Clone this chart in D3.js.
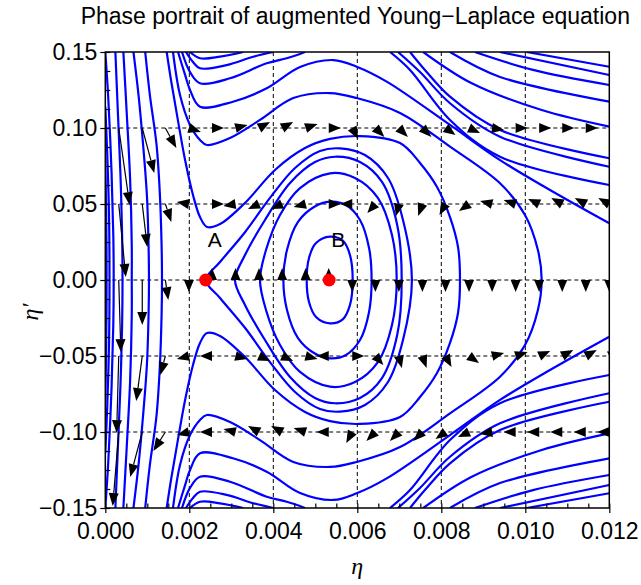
<!DOCTYPE html>
<html lang="en">
<head>
<meta charset="utf-8">
<title>Phase portrait</title>
<script src="https://cdnjs.cloudflare.com/ajax/libs/d3/7.8.5/d3.min.js"></script>
<style>
body { margin: 0; background: #fff; }
svg text { font-family: "Liberation Sans", Arial, sans-serif; fill: #000; }
.grid line { stroke: #000; stroke-width: 1; stroke-dasharray: 4,3; }
.orbit { fill: none; stroke: #0000ff; stroke-width: 2.2; }
.axis path { display: none; }
.axis line { stroke: #000; stroke-width: 1.2; }
</style>
</head>
<body>
<div id="chart"></div>
<script>
// ---- data ----
var titleText = "Phase portrait of augmented Young\u2212Laplace equation";
var xMajor = [0, 0.002, 0.004, 0.006, 0.008, 0.010, 0.012];
var yMajor = [-0.15, -0.10, -0.05, 0, 0.05, 0.10, 0.15];
var xMinor = [0, 0.0005, 0.001, 0.0015, 0.002, 0.0025, 0.003, 0.0035, 0.004, 0.0045, 0.005, 0.0055,
              0.006, 0.0065, 0.007, 0.0075, 0.008, 0.0085, 0.009, 0.0095, 0.010, 0.0105, 0.011, 0.0115, 0.012];
var yMinor = [-0.15, -0.1375, -0.125, -0.1125, -0.10, -0.0875, -0.075, -0.0625, -0.05, -0.0375, -0.025, -0.0125,
              0, 0.0125, 0.025, 0.0375, 0.05, 0.0625, 0.075, 0.0875, 0.10, 0.1125, 0.125, 0.1375, 0.15];

var equilibria = [
  {name: "A", eta: 0.00239, deta: 0},
  {name: "B", eta: 0.00533, deta: 0}
];

// orbits left of the saddle
var leftOrbits = [
  [[0,0.081],[0.000017,0.05],[0.000029,0.02],[0.00003,0],[0.000029,-0.02],[0.000017,-0.05],[0,-0.081]],
  [[0,0.114],[0.00005,0.08],[0.00009,0.04],[0.0001,0],[0.00009,-0.04],[0.00005,-0.08],[0,-0.114]],
  [[0,0.15],[0.00007,0.12],[0.00015,0.07],[0.00019,0.03],[0.0002,0],[0.00019,-0.03],[0.00015,-0.07],[0.00007,-0.12],[0,-0.15]],
  [[0.00024,0.15],[0.0003,0.11],[0.00036,0.07],[0.0004,0.03],[0.00041,0],[0.0004,-0.03],[0.00036,-0.07],[0.0003,-0.11],[0.00024,-0.15]],
  [[0.00043,0.15],[0.00051,0.11],[0.00059,0.067],[0.00063,0.023],[0.00063,0],[0.00063,-0.023],[0.00059,-0.067],[0.00051,-0.11],[0.00043,-0.15]],
  [[0.00067,0.15],[0.00079,0.122],[0.0009,0.089],[0.00099,0.056],[0.00103,0.023],[0.00104,0],[0.00103,-0.023],[0.00099,-0.056],[0.0009,-0.089],[0.00079,-0.122],[0.00067,-0.15]],
  [[0.00095,0.15],[0.00106,0.122],[0.00122,0.089],[0.0013,0.056],[0.00134,0.023],[0.00135,0],[0.00134,-0.023],[0.0013,-0.056],[0.00122,-0.089],[0.00106,-0.122],[0.00095,-0.15]]
];

// closed orbits round the centre B
var loops = [
  [[0.004795,0],[0.00485,0.0145],[0.005017,0.0243],[0.00535,0.0285],[0.00566,0.0257],[0.005826,0.0164],[0.00589,0],
   [0.005826,-0.0164],[0.00566,-0.0257],[0.00535,-0.0285],[0.005017,-0.0243],[0.00485,-0.0145]],
  [[0.00424,0],[0.004326,0.0197],[0.004588,0.0382],[0.004969,0.048],[0.00535,0.0515],[0.00573,0.0493],[0.006064,0.0395],[0.00628,0.021],[0.00634,0],
   [0.00628,-0.021],[0.006064,-0.0395],[0.00573,-0.0493],[0.00535,-0.0515],[0.004969,-0.048],[0.004588,-0.0382],[0.004326,-0.0197]],
  [[0.003683,0],[0.003826,0.0197],[0.00416,0.0428],[0.004636,0.0605],[0.00535,0.0702],[0.005945,0.0671],[0.00649,0.054],[0.006826,0.0296],[0.006938,0],
   [0.006826,-0.0296],[0.00649,-0.054],[0.005945,-0.0671],[0.00535,-0.0702],[0.004636,-0.0605],[0.00416,-0.0428],[0.003826,-0.0197]],
  [[0.003088,0],[0.003326,0.0164],[0.003802,0.0395],[0.004398,0.0638],[0.004993,0.0776],[0.005469,0.0811],[0.006064,0.0776],[0.006588,0.0645],[0.00695,0.0362],[0.007057,0],
   [0.00695,-0.0362],[0.006588,-0.0645],[0.006064,-0.0776],[0.005469,-0.0811],[0.004993,-0.0776],[0.004398,-0.0638],[0.003802,-0.0395],[0.003326,-0.0164]],
  [[0.00239,0],[0.002731,0.0118],[0.00333,0.0316],[0.003921,0.054],[0.004517,0.0737],[0.005112,0.0849],[0.005588,0.0866],[0.006183,0.0822],[0.006731,0.0671],[0.007088,0.0395],[0.0073,0],
   [0.007088,-0.0395],[0.006731,-0.0671],[0.006183,-0.0822],[0.005588,-0.0866],[0.005112,-0.0849],[0.004517,-0.0737],[0.00392,-0.054],[0.00333,-0.0316],[0.002731,-0.0118]]
];

// orbits passing over the saddle
var passingOrbits = [
  [[0.001462,0.15],[0.001564,0.1316],[0.001707,0.1086],[0.0019,0.0789],[0.002088,0.0559],[0.002255,0.0414],[0.002421,0.0349],[0.002731,0.0368],
   [0.003326,0.0507],[0.00404,0.0724],[0.004755,0.0868],[0.00535,0.0928],[0.006064,0.0947],[0.007017,0.0901],[0.007493,0.077],[0.007898,0.0612],
   [0.008207,0.0414],[0.008398,0.0217],[0.008445,0],
   [0.008398,-0.0217],[0.008207,-0.0414],[0.007898,-0.0612],[0.007493,-0.077],[0.007017,-0.0901],[0.006064,-0.0947],[0.00535,-0.0928],[0.004755,-0.0868],
   [0.00404,-0.0724],[0.003326,-0.0507],[0.002731,-0.0368],[0.002421,-0.0349],[0.002255,-0.0414],[0.002088,-0.0559],[0.0019,-0.0789],[0.001707,-0.1086],
   [0.001564,-0.1316],[0.001462,-0.15]],
  [[0.001612,0.15],[0.001779,0.1217],[0.002017,0.102],[0.002255,0.0921],[0.002421,0.0888],[0.002969,0.0934],[0.003683,0.1053],[0.004476,0.1197],
   [0.00535,0.123],[0.005986,0.1197],[0.007017,0.1099],[0.008207,0.0877],[0.009398,0.0636],[0.009993,0.0428],[0.0103,0.0197],[0.01039,0],
   [0.0103,-0.0197],[0.009993,-0.0428],[0.009398,-0.0636],[0.008207,-0.0877],[0.007017,-0.1099],[0.005986,-0.1197],[0.00535,-0.123],[0.004476,-0.1197],
   [0.003683,-0.1053],[0.002969,-0.0934],[0.002421,-0.0888],[0.002255,-0.0921],[0.002017,-0.102],[0.001779,-0.1217],[0.001612,-0.15]],
  [[0.001731,0.15],[0.0019,0.1349],[0.002017,0.125],[0.002255,0.114],[0.00304,0.1173],[0.003843,0.1261],[0.004636,0.1401],[0.00543,0.1447],
   [0.005986,0.1403],[0.0067,0.1305],[0.008207,0.102],[0.009398,0.0789],[0.010588,0.0592],[0.012,0.0373]],
  [[0.001731,-0.15],[0.0019,-0.1349],[0.002017,-0.125],[0.002255,-0.114],[0.00304,-0.1173],[0.003843,-0.1261],[0.004636,-0.1401],[0.00543,-0.1447],
   [0.005986,-0.1403],[0.0067,-0.1305],[0.008207,-0.102],[0.009398,-0.0789],[0.010588,-0.0592],[0.012,-0.0373]],
  [[0.001826,0.15],[0.002017,0.1368],[0.002255,0.1294],[0.002969,0.1327],[0.003843,0.1426],[0.004319,0.1459],[0.004636,0.1487],[0.004755,0.15]],
  [[0.001826,-0.15],[0.002017,-0.1368],[0.002255,-0.1294],[0.002969,-0.1327],[0.003843,-0.1426],[0.004319,-0.1459],[0.004636,-0.1487],[0.004755,-0.15]],
  [[0.001921,0.15],[0.002088,0.1434],[0.002255,0.1393],[0.00289,0.1414],[0.003524,0.1469],[0.004,0.15]],
  [[0.001921,-0.15],[0.002088,-0.1434],[0.002255,-0.1393],[0.00289,-0.1414],[0.003524,-0.1469],[0.004,-0.15]],
  [[0.002017,0.15],[0.002255,0.1459],[0.002731,0.1469],[0.003286,0.15]],
  [[0.002017,-0.15],[0.002255,-0.1459],[0.002731,-0.1469],[0.003286,-0.15]]
];

// orbits coming in over the top (bottom) edge on the right
var rightOrbits = [
  [[0.006779,0.15],[0.007255,0.1382],[0.008207,0.1053],[0.009398,0.0811],[0.012,0.0625]],
  [[0.006969,0.15],[0.007493,0.1368],[0.008207,0.1163],[0.009398,0.0943],[0.012,0.0745]],
  [[0.007255,0.15],[0.00761,0.1382],[0.008207,0.1206],[0.009398,0.0987],[0.012,0.0801]],
  [[0.00757,0.15],[0.008726,0.1294],[0.01039,0.1118],[0.012,0.1009]],
  [[0.008207,0.15],[0.009398,0.1336],[0.012,0.1173]],
  [[0.0088,0.15],[0.010183,0.1382],[0.012,0.1283]],
  [[0.009398,0.15],[0.012,0.1349]],
  [[0.01003,0.15],[0.012,0.1403]],
  [[0.006779,-0.15],[0.007255,-0.1382],[0.008207,-0.1053],[0.009398,-0.0811],[0.012,-0.0625]],
  [[0.006969,-0.15],[0.007493,-0.1368],[0.008207,-0.1163],[0.009398,-0.0943],[0.012,-0.0745]],
  [[0.007255,-0.15],[0.00761,-0.1382],[0.008207,-0.1206],[0.009398,-0.0987],[0.012,-0.0801]],
  [[0.00757,-0.15],[0.008726,-0.1294],[0.01039,-0.1118],[0.012,-0.1009]],
  [[0.008207,-0.15],[0.009398,-0.1336],[0.012,-0.1173]],
  [[0.0088,-0.15],[0.010183,-0.1382],[0.012,-0.1283]],
  [[0.009398,-0.15],[0.012,-0.1349]],
  [[0.01003,-0.15],[0.012,-0.1403]]
];

// direction field: grid columns, rows, and the arrow (tail to tip) at each grid point
var arrowEta = [0.00032, 0.00088, 0.00143, 0.00199, 0.00254, 0.0031, 0.00366, 0.00421, 0.00477, 0.00532, 0.00588,
                0.00643, 0.00699, 0.00755, 0.0081, 0.00866, 0.00921, 0.00977, 0.01033, 0.01088, 0.01144, 0.012];
var arrowRows = [0.10, 0.05, 0, -0.05, -0.10];
var arrowsRow1 = [[0.00026,-0.0507],[0.000286,-0.0296],[0.000262,-0.0132],[0.000286,-0.0026],[0.000286,0],[0.000286,0.002],
  [0.000262,0.0039],[0.000262,0.0039],[0.000286,0.0026],[0.000286,0],[0.000143,-0.0072],[0.000214,-0.0059],[0.000214,-0.0059],
  [0.000214,-0.0059],[0.000238,-0.0046],[0.000262,-0.0033],[0.000286,-0.0013],[0.000286,0],[0.000286,0],[0.000286,0],[0.000286,0],[0.000286,0]];
var arrowsRow2 = [[0.000167,-0.048],[0.000119,-0.0283],[0.000143,-0.0118],[-0.000286,0.0013],[0.000286,0],[-0.000286,-0.0013],
  [-0.000262,-0.0033],[-0.000262,-0.0033],[-0.000286,-0.002],[0.000286,0],[-0.000286,0],[-0.00019,-0.0059],[-0.00007,-0.0079],
  [-0.0001,-0.0079],[-0.000143,-0.0072],[-0.000238,-0.0046],[-0.000286,0.002],[-0.000286,0.0026],[-0.000262,0.0033],[-0.000262,0.0039],[-0.000262,0.0039],[-0.000262,0.0039]];
var arrowsRow3 = [[0.00005,-0.0474],[0,-0.0296],[0.00007,-0.0132],[0,-0.0079],[0,0.0079],[0,0.0079],[0,0.0079],[0,0.0079],[0,0.0079],[0,0.0079],
  [0,-0.0079],[0,-0.0079],[0,-0.0079],[0,-0.0079],[0,-0.0079],[0,-0.0079],[0,-0.0079],[0,-0.0079],[0,-0.0079],[0,-0.0079],[0,-0.0079],[0,-0.0079]];
var arrowsRow4 = [[-0.00005,-0.0507],[-0.000143,-0.0296],[-0.00012,-0.0125],[-0.000286,-0.002],[-0.000286,0],[0.000286,-0.002],
  [0.000262,-0.0033],[0.000262,-0.0033],[0.000286,-0.002],[-0.000286,0],[0.000286,0],[0.00019,-0.0059],[0.00007,-0.0079],
  [0.0001,-0.0079],[0.000143,-0.0072],[0.000238,-0.0046],[0.000286,0.002],[0.000286,0.0026],[0.000262,0.0033],[0.000262,0.0039],[0.000262,0.0039],[0.000262,0.0039]];
var arrowsRow5 = [[-0.000143,-0.0487],[-0.000286,-0.0296],[-0.000286,-0.0125],[-0.000286,-0.002],[-0.000286,0],[-0.000286,0.002],
  [-0.000262,0.0039],[-0.000262,0.0039],[-0.000286,0.0026],[-0.000286,0],[-0.000143,-0.0072],[-0.000214,-0.0059],[-0.000214,-0.0059],
  [-0.000214,-0.0059],[-0.000238,-0.0046],[-0.000262,-0.0033],[-0.000286,-0.0013],[-0.000286,0],[-0.000286,0],[-0.000286,0],[-0.000286,0],[-0.000286,0]];
var arrowRowsData = [arrowsRow1, arrowsRow2, arrowsRow3, arrowsRow4, arrowsRow5];

// ---- layout ----
var svgWidth = 641, svgHeight = 585;
var margins = {top: 52, right: 31.7, bottom: 77, left: 105.3};
var plotW = svgWidth - margins.left - margins.right,
    plotH = svgHeight - margins.top - margins.bottom;

var xScale = d3.scaleLinear().domain([0, 0.012]).range([0, plotW]);
var yScale = d3.scaleLinear().domain([-0.15, 0.15]).range([plotH, 0]);

var svg = d3.select('#chart').append('svg')
    .attr('width', svgWidth)
    .attr('height', svgHeight);

svg.append('text')
    .attr('x', margins.left + plotW / 2 - 2)
    .attr('y', 24)
    .attr('text-anchor', 'middle')
    .style('font-size', '23px')
    .text(titleText);

var g = svg.append('g')
    .attr('transform', 'translate(' + margins.left + ',' + margins.top + ')');

g.append('clipPath').attr('id', 'plotClip')
  .append('rect').attr('width', plotW).attr('height', plotH);

// dashed grid
var grid = g.append('g').attr('class', 'grid');
grid.selectAll('.gx').data(xMajor.slice(1, -1)).enter().append('line')
    .attr('x1', function(d) { return xScale(d); }).attr('x2', function(d) { return xScale(d); })
    .attr('y1', 0).attr('y2', plotH);
grid.selectAll('.gy').data(yMajor.slice(1, -1)).enter().append('line')
    .attr('y1', function(d) { return yScale(d); }).attr('y2', function(d) { return yScale(d); })
    .attr('x1', 0).attr('x2', plotW);

// orbits
var line = d3.line()
    .x(function(d) { return xScale(d[0]); })
    .y(function(d) { return yScale(d[1]); })
    .curve(d3.curveCatmullRom.alpha(0.5));
var closedLine = d3.line()
    .x(function(d) { return xScale(d[0]); })
    .y(function(d) { return yScale(d[1]); })
    .curve(d3.curveCatmullRomClosed.alpha(0.5));

var orbitLayer = g.append('g').attr('clip-path', 'url(#plotClip)');
orbitLayer.selectAll('.open').data(leftOrbits.concat(passingOrbits, rightOrbits)).enter()
    .append('path').attr('class', 'orbit').attr('d', line);
orbitLayer.selectAll('.loop').data(loops).enter()
    .append('path').attr('class', 'orbit').attr('d', closedLine);

// direction field arrows
var arrows = [];
arrowRows.forEach(function(row, j) {
    arrowEta.forEach(function(eta, i) {
        arrows.push({eta: eta, deta: row, v: arrowRowsData[j][i]});
    });
});

var arrowLayer = g.append('g').attr('clip-path', 'url(#plotClip)');
arrowLayer.selectAll('g').data(arrows).enter().append('g')
    .each(function(d) {
        var x0 = xScale(d.eta), y0 = yScale(d.deta);
        var x1 = xScale(d.eta + d.v[0]), y1 = yScale(d.deta + d.v[1]);
        var len = Math.sqrt((x1 - x0) * (x1 - x0) + (y1 - y0) * (y1 - y0));
        var ux = (x1 - x0) / len, uy = (y1 - y0) / len;
        var headL = Math.min(13, len), headW = 5;
        var bx = x1 - ux * headL, by = y1 - uy * headL;
        var sel = d3.select(this);
        if (len > headL + 1) {
            sel.append('line').attr('x1', x0).attr('y1', y0).attr('x2', bx).attr('y2', by)
                .attr('stroke', '#000').attr('stroke-width', 1.2);
        }
        sel.append('path')
            .attr('d', 'M' + x1 + ',' + y1 + 'L' + (bx - uy * headW) + ',' + (by + ux * headW) +
                       'L' + (bx + uy * headW) + ',' + (by - ux * headW) + 'Z')
            .attr('fill', '#000');
    });

// equilibrium points
g.selectAll('.eq').data(equilibria).enter().append('circle')
    .attr('cx', function(d) { return xScale(d.eta); })
    .attr('cy', function(d) { return yScale(d.deta); })
    .attr('r', 6.5)
    .attr('fill', '#ff0000');
g.selectAll('.eqLabel').data(equilibria).enter().append('text')
    .attr('x', function(d) { return xScale(d.eta) + 2; })
    .attr('y', function(d) { return yScale(d.deta) - 33; })
    .style('font-size', '21px')
    .text(function(d) { return d.name; });

// frame
g.append('rect').attr('width', plotW).attr('height', plotH)
    .attr('fill', 'none').attr('stroke', '#000').attr('stroke-width', 1.5);

// axes: labelled major ticks outside, all ticks inside
g.append('g').attr('class', 'axis')
    .attr('transform', 'translate(0,' + plotH + ')')
    .call(d3.axisBottom(xScale).tickValues(xMajor).tickSize(5).tickPadding(10).tickFormat(d3.format('.3f')));
g.append('g').attr('class', 'axis')
    .attr('transform', 'translate(0,' + plotH + ')')
    .call(d3.axisBottom(xScale).tickValues(xMinor).tickSize(-4.5).tickFormat(''));
g.append('g').attr('class', 'axis')
    .call(d3.axisLeft(yScale).tickValues(yMajor).tickSize(5).tickPadding(3).tickFormat(d3.format('.2f')));
g.append('g').attr('class', 'axis')
    .call(d3.axisLeft(yScale).tickValues(yMinor).tickSize(-5).tickFormat(''));
g.selectAll('.axis text').style('font-size', '23px').style('font-family', '"Liberation Sans", Arial, sans-serif');

// axis titles
svg.append('text')
    .attr('x', margins.left + plotW / 2)
    .attr('y', 574)
    .attr('text-anchor', 'middle')
    .style('font-family', '"Liberation Serif", "Times New Roman", serif')
    .style('font-style', 'italic')
    .style('font-size', '24px')
    .text('\u03b7');
svg.append('text')
    .attr('transform', 'translate(38,' + 312 + ') rotate(-90)')
    .attr('text-anchor', 'middle')
    .style('font-family', '"Liberation Serif", "Times New Roman", serif')
    .style('font-style', 'italic')
    .style('font-size', '24px')
    .text('\u03b7\u2032');
</script>
</body>
</html>
